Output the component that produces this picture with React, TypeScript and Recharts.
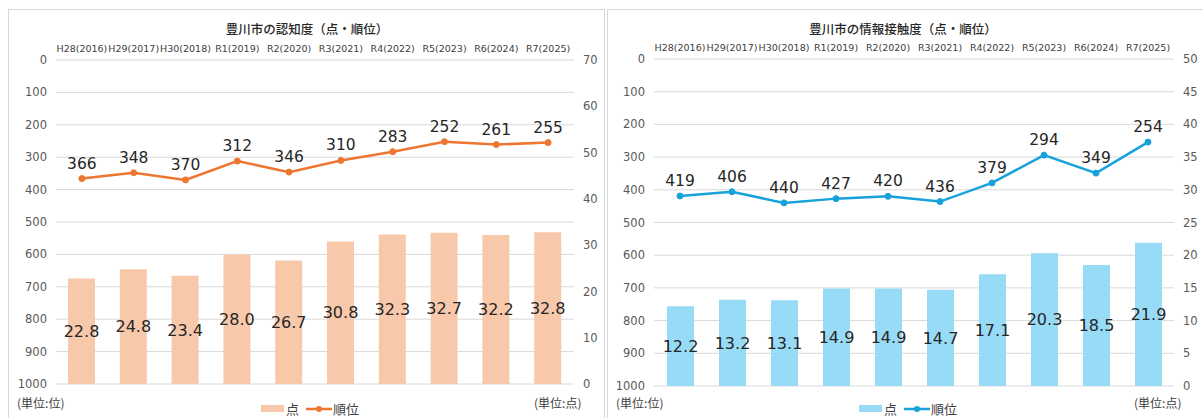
import { ComposedChart, Bar, Line, XAxis, YAxis, CartesianGrid, LabelList } from "recharts";

const categories = ["H28(2016)", "H29(2017)", "H30(2018)", "R1(2019)", "R2(2020)", "R3(2021)", "R4(2022)", "R5(2023)", "R6(2024)", "R7(2025)"];
const recognitionScore = [22.8, 24.8, 23.4, 28.0, 26.7, 30.8, 32.3, 32.7, 32.2, 32.8];
const recognitionRank = [366, 348, 370, 312, 346, 310, 283, 252, 261, 255];
const contactScore = [12.2, 13.2, 13.1, 14.9, 14.9, 14.7, 17.1, 20.3, 18.5, 21.9];
const contactRank = [419, 406, 440, 427, 420, 436, 379, 294, 349, 254];
const rankTicks = [0, 100, 200, 300, 400, 500, 600, 700, 800, 900, 1000];
const recognitionTicks = [0, 10, 20, 30, 40, 50, 60, 70];
const contactTicks = [0, 5, 10, 15, 20, 25, 30, 35, 40, 45, 50];

const FONT = '"DejaVu Sans", "Noto Sans CJK JP", sans-serif';
const CJK = '"Noto Sans CJK JP", sans-serif';

interface PanelProps {
  title: string;
  scores: number[];
  ranks: number[];
  scoreTicks: number[];
  barColor: string;
  lineColor: string;
  left: number;
  width: number;
  chartWidth: number;
  leftAxisWidth: number;
  rightAxisWidth: number;
  marginTop: number;
  marginBottom: number;
  titleX: number;
  legendX: number;
  rightUnitX: number;
}

function Panel(p: PanelProps) {
  const data = categories.map((c, i) => ({ cat: c, score: p.scores[i], rank: p.ranks[i] }));
  const max = p.scoreTicks[p.scoreTicks.length - 1];
  return (
    <div
      style={{
        position: "absolute",
        left: p.left,
        top: 9,
        width: p.width,
        height: 420,
        border: "1px solid #D9D9D9",
        boxSizing: "border-box",
        background: "#fff",
      }}
    >
      <div style={{ position: "absolute", left: 0, top: 0 }}>
        <ComposedChart
          width={p.chartWidth}
          height={410}
          data={data}
          margin={{ top: p.marginTop, right: 0, bottom: p.marginBottom, left: 0 }}
        >
          <CartesianGrid yAxisId="rank" vertical={false} stroke="#D9D9D9" />
          <XAxis
            dataKey="cat"
            orientation="top"
            height={20}
            interval={0}
            axisLine={false}
            tickLine={false}
            tickSize={0}
            tickMargin={8}
            tick={{ fontSize: 9.5, fill: "#404040" }}
          />
          <YAxis
            yAxisId="rank"
            orientation="left"
            width={p.leftAxisWidth}
            domain={[0, 1000]}
            ticks={rankTicks}
            reversed
            axisLine={false}
            tickLine={false}
            tickSize={0}
            tickMargin={9}
            tick={{ fontSize: 11.5, fill: "#595959" }}
          />
          <YAxis
            yAxisId="score"
            orientation="right"
            width={p.rightAxisWidth}
            domain={[0, max]}
            ticks={p.scoreTicks}
            axisLine={false}
            tickLine={false}
            tickSize={0}
            tickMargin={9}
            tick={{ fontSize: 11.5, fill: "#595959", textAnchor: "start" }}
          />
          <Bar yAxisId="score" dataKey="score" fill={p.barColor} barSize={27} isAnimationActive={false}>
            <LabelList
              dataKey="score"
              position="center"
              formatter={(v: any) => Number(v).toFixed(1)}
              style={{ fontSize: 16, fill: "#262626" }}
            />
          </Bar>
          <Line
            yAxisId="rank"
            dataKey="rank"
            stroke={p.lineColor}
            strokeWidth={2.5}
            dot={{ r: 3, fill: p.lineColor, stroke: p.lineColor, strokeWidth: 1 }}
            isAnimationActive={false}
          >
            <LabelList dataKey="rank" position="top" offset={10} style={{ fontSize: 15.5, fill: "#262626" }} />
          </Line>
        </ComposedChart>
      </div>
      <div
        style={{
          position: "absolute",
          left: p.titleX,
          top: 9,
          transform: "translateX(-50%)",
          whiteSpace: "nowrap",
          fontFamily: CJK,
          fontSize: 12.5,
          fontWeight: 500,
          color: "#262626",
        }}
      >
        {p.title}
      </div>
      <div style={{ position: "absolute", left: 8, top: 384, fontFamily: CJK, fontSize: 12, color: "#404040", whiteSpace: "nowrap" }}>
        (単位:位)
      </div>
      <div style={{ position: "absolute", left: p.rightUnitX, top: 384, fontFamily: CJK, fontSize: 12, color: "#404040", whiteSpace: "nowrap" }}>
        (単位:点)
      </div>
      <div
        style={{
          position: "absolute",
          left: p.legendX,
          top: 389,
          display: "flex",
          alignItems: "center",
          fontFamily: CJK,
          fontSize: 13,
          color: "#404040",
          whiteSpace: "nowrap",
        }}
      >
        <span style={{ display: "inline-block", width: 23, height: 7, background: p.barColor, marginRight: 2 }} />
        <span>点</span>
        <svg width={26} height={10} style={{ marginLeft: 7, marginRight: 1 }}>
          <line x1={0} y1={5} x2={26} y2={5} stroke={p.lineColor} strokeWidth={2.5} />
          <circle cx={13} cy={5} r={3} fill={p.lineColor} />
        </svg>
        <span>順位</span>
      </div>
    </div>
  );
}

export default function App() {
  return (
    <div
      style={{
        position: "absolute",
        left: 0,
        top: 0,
        width: 1203,
        height: 418,
        overflow: "hidden",
        background: "#fff",
        fontFamily: FONT,
      }}
    >
      <Panel
        title="豊川市の認知度（点・順位）"
        scores={recognitionScore}
        ranks={recognitionRank}
        scoreTicks={recognitionTicks}
        barColor="#F8C8AB"
        lineColor="#ED7631"
        left={8}
        width={597}
        chartWidth={597}
        leftAxisWidth={47}
        rightAxisWidth={32}
        marginTop={30}
        marginBottom={36}
        titleX={298}
        legendX={252}
        rightUnitX={525}
      />
      <Panel
        title="豊川市の情報接触度（点・順位）"
        scores={contactScore}
        ranks={contactRank}
        scoreTicks={contactTicks}
        barColor="#97DBF7"
        lineColor="#18A2DC"
        left={607}
        width={600}
        chartWidth={596}
        leftAxisWidth={46}
        rightAxisWidth={30}
        marginTop={29}
        marginBottom={34}
        titleX={295}
        legendX={251}
        rightUnitX={526}
      />
    </div>
  );
}
